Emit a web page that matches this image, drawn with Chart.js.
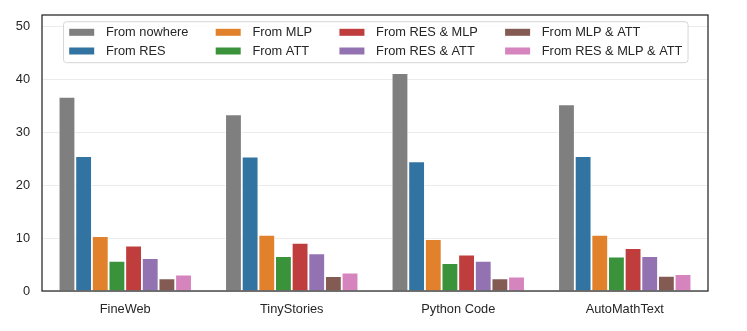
<!DOCTYPE html>
<html>
<head>
<meta charset="utf-8">
<script src="https://cdn.jsdelivr.net/npm/chart.js@4"></script>
<style>
  html, body { margin: 0; padding: 0; background: #fff; }
  #wrap { width: 747px; height: 331px; position: relative; }
</style>
</head>
<body>
<div id="wrap"><canvas id="c" width="747" height="331"></canvas></div>
<script>
const categories = ['FineWeb', 'TinyStories', 'Python Code', 'AutoMathText'];
const seriesNames = ['From nowhere', 'From RES', 'From MLP', 'From ATT', 'From RES & MLP', 'From RES & ATT', 'From MLP & ATT', 'From RES & MLP & ATT'];
const fromNowhere   = [36.7, 33.4, 41.2, 35.3];
const fromRES       = [25.5, 25.4, 24.5, 25.5];
const fromMLP       = [10.4, 10.6, 9.8, 10.6];
const fromATT       = [5.7, 6.6, 5.3, 6.5];
const fromRESMLP    = [8.6, 9.1, 6.9, 8.1];
const fromRESATT    = [6.2, 7.1, 5.7, 6.6];
const fromMLPATT    = [2.4, 2.8, 2.4, 2.85];
const fromRESMLPATT = [3.1, 3.5, 2.7, 3.2];
const yTicks = [0, 10, 20, 30, 40, 50];
const colors = ['#7f7f7f', '#3274a1', '#e1812c', '#3a923a', '#c03d3e', '#9372b2', '#845b53', '#d684bd'];

const seriesValues = [fromNowhere, fromRES, fromMLP, fromATT, fromRESMLP, fromRESATT, fromMLPATT, fromRESMLPATT];
const FONT = "'Liberation Sans', Arial, Helvetica, sans-serif";
const FS = 12.8;
const TEXT = '#262626';

const framePlugin = {
  id: 'frame',
  afterDraw(chart) {
    const { ctx, chartArea: a } = chart;
    ctx.save();
    ctx.strokeStyle = '#262626';
    ctx.lineWidth = 1.25;
    ctx.strokeRect(a.left, a.top, a.right - a.left, a.bottom - a.top);
    ctx.restore();
  }
};

const legendPlugin = {
  id: 'colLegend',
  afterDatasetsDraw(chart) {
    const { ctx, chartArea: a } = chart;
    ctx.save();
    ctx.font = FS + 'px ' + FONT;
    const rows = 2, cols = 4;
    const swW = 25, swH = 7, textGap = 11.7, colGap = 27.3;
    const boxLeft = a.left + 21.5, boxTop = a.top + 6.7, boxH = 41;
    const padX = 5.7;
    const rowY = [boxTop + 10.6, boxTop + 29.3];
    let x = boxLeft + padX;
    const colX = [];
    for (let c = 0; c < cols; c++) {
      colX.push(x);
      let maxW = 0;
      for (let r = 0; r < rows; r++) {
        const i = c * rows + r;
        maxW = Math.max(maxW, ctx.measureText(seriesNames[i]).width);
      }
      x += swW + textGap + maxW + (c < cols - 1 ? colGap : 0);
    }
    const boxRight = x + padX;
    ctx.beginPath();
    if (ctx.roundRect) ctx.roundRect(boxLeft, boxTop, boxRight - boxLeft, boxH, 3);
    else ctx.rect(boxLeft, boxTop, boxRight - boxLeft, boxH);
    ctx.fillStyle = 'rgba(255,255,255,0.85)';
    ctx.fill();
    ctx.strokeStyle = '#d6d6d6';
    ctx.lineWidth = 1;
    ctx.stroke();
    ctx.textBaseline = 'middle';
    ctx.textAlign = 'left';
    for (let c = 0; c < cols; c++) {
      for (let r = 0; r < rows; r++) {
        const i = c * rows + r;
        const y = rowY[r];
        ctx.fillStyle = colors[i];
        ctx.fillRect(colX[c], y - swH / 2, swW, swH);
        ctx.fillStyle = TEXT;
        ctx.fillText(seriesNames[i], colX[c] + swW + textGap, y + 0.5);
      }
    }
    ctx.restore();
  }
};

new Chart(document.getElementById('c'), {
  type: 'bar',
  data: {
    labels: categories,
    datasets: seriesNames.map((name, i) => ({
      label: name,
      data: seriesValues[i],
      backgroundColor: colors[i],
      borderColor: 'rgba(255,255,255,0.9)',
      borderWidth: 0.9,
      borderSkipped: 'bottom',
      categoryPercentage: 0.8,
      barPercentage: 1.0
    }))
  },
  options: {
    responsive: false,
    animation: false,
    devicePixelRatio: 1,
    layout: { padding: { left: 0, top: 15, right: 39, bottom: 0 } },
    plugins: {
      legend: { display: false },
      tooltip: { enabled: false }
    },
    scales: {
      x: {
        grid: { display: false, drawTicks: false },
        border: { display: false },
        ticks: { color: TEXT, font: { family: FONT, size: FS }, padding: 11, maxRotation: 0 },
        afterFit(scale) { scale.height = 40; scale.paddingLeft = 0; scale.paddingRight = 0; }
      },
      y: {
        min: 0,
        max: 52.2,
        grid: { color: '#ebebeb', lineWidth: 1, drawTicks: false },
        border: { display: false },
        ticks: { color: TEXT, font: { family: FONT, size: FS }, padding: 12 },
        afterBuildTicks(scale) { scale.ticks = yTicks.map(v => ({ value: v })); },
        afterFit(scale) { scale.width = 42; scale.paddingTop = 0; scale.paddingBottom = 0; }
      }
    }
  },
  plugins: [legendPlugin, framePlugin]
});
</script>
</body>
</html>
